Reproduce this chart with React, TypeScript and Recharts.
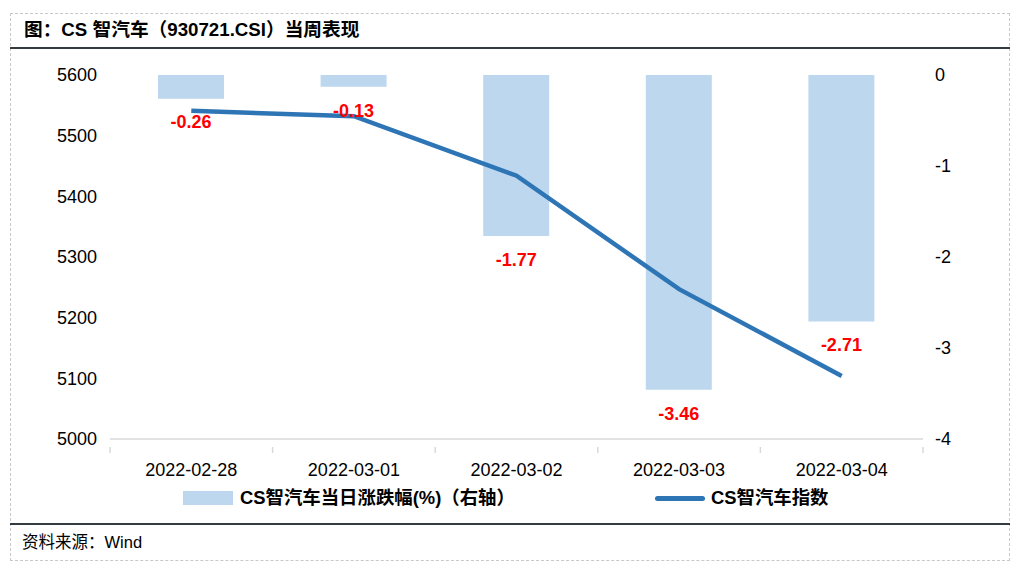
import { ComposedChart, Bar, Line, XAxis, YAxis, LabelList } from "recharts";

const dates = ["2022-02-28", "2022-03-01", "2022-03-02", "2022-03-03", "2022-03-04"];
const dailyChange = [-0.26, -0.13, -1.77, -3.46, -2.71];
const indexValues = [5541, 5532, 5434, 5247, 5104];
const leftTicks = [5000, 5100, 5200, 5300, 5400, 5500, 5600];
const rightTicks = [-4, -3, -2, -1, 0];

const data = dates.map((d, i) => ({
  date: d,
  change: dailyChange[i],
  index: indexValues[i],
}));

const FONT = "'Liberation Sans', Arial, 'Noto Sans CJK SC', sans-serif";
const CHART_W = 1021;
const CHART_H = 440;
const MARGIN = { top: 25, right: 38, bottom: 21, left: 50 };
const PLOT_W = CHART_W - MARGIN.left - MARGIN.right - 60 - 60;
const HALF_BAND = PLOT_W / dates.length / 2;

const DateTick = (props: any) => {
  const { x, y, payload, index } = props;
  const last = index === dates.length - 1;
  return (
    <g>
      <line x1={x - HALF_BAND} y1={y} x2={x - HALF_BAND} y2={y + 6} stroke="#d9d9d9" strokeWidth={1.5} />
      {last && (
        <line x1={x + HALF_BAND} y1={y} x2={x + HALF_BAND} y2={y + 6} stroke="#d9d9d9" strokeWidth={1.5} />
      )}
      <text x={x} y={y + 24} textAnchor="middle" dominantBaseline="middle" fontSize={18} fill="#000" fontFamily={FONT}>
        {payload.value}
      </text>
    </g>
  );
};

const ChangeLabel = (props: any) => {
  const { x, y, width, height, value } = props;
  const bottom = Math.max(y, y + height);
  return (
    <text
      x={x + width / 2}
      y={bottom + 25}
      textAnchor="middle"
      dominantBaseline="middle"
      fontSize={18}
      fontWeight="bold"
      fill="#ff0000"
      fontFamily={FONT}
    >
      {value.toFixed(2)}
    </text>
  );
};

export default function App() {
  return (
    <div style={{ position: "absolute", left: 0, top: 0, width: 1021, height: 574, fontFamily: FONT, background: "#fff" }}>
      <div
        style={{
          position: "absolute",
          left: 10,
          top: 13,
          width: 1000,
          height: 548,
          border: "1px dashed #c8c8c8",
          boxSizing: "border-box",
        }}
      />
      <div style={{ position: "absolute", left: 24, top: 18, fontSize: 18.7, fontWeight: "bold", color: "#000", lineHeight: "24px" }}>
        图：CS 智汽车（930721.CSI）当周表现
      </div>
      <div style={{ position: "absolute", left: 10, top: 47, width: 1000, height: 2, background: "#333a40" }} />

      <div style={{ position: "absolute", left: 0, top: 50 }}>
        <ComposedChart width={CHART_W} height={CHART_H} data={data} margin={MARGIN}>
          <XAxis
            dataKey="date"
            height={30}
            axisLine={{ stroke: "#d9d9d9", strokeWidth: 1.5 }}
            tickLine={false}
            tick={<DateTick />}
            interval={0}
          />
          <YAxis
            yAxisId="left"
            orientation="left"
            width={60}
            domain={[5000, 5600]}
            ticks={leftTicks}
            axisLine={false}
            tickLine={false}
            tickMargin={7}
            tick={{ fontSize: 18, fill: "#000", fontFamily: FONT }}
          />
          <YAxis
            yAxisId="right"
            orientation="right"
            width={60}
            domain={[-4, 0]}
            ticks={rightTicks}
            axisLine={false}
            tickLine={false}
            tickMargin={6}
            tick={{ fontSize: 18, fill: "#000", fontFamily: FONT, textAnchor: "start" }}
          />
          <Bar yAxisId="right" dataKey="change" fill="#bdd7ee" barSize={66} isAnimationActive={false}>
            <LabelList dataKey="change" content={<ChangeLabel />} />
          </Bar>
          <Line
            yAxisId="left"
            dataKey="index"
            type="linear"
            stroke="#2e75b6"
            strokeWidth={4.5}
            dot={false}
            activeDot={false}
            isAnimationActive={false}
          />
        </ComposedChart>
      </div>

      <div style={{ position: "absolute", left: 183, top: 491, width: 50, height: 14, background: "#bdd7ee" }} />
      <div style={{ position: "absolute", left: 240, top: 486, fontSize: 18.4, fontWeight: "bold", lineHeight: "24px", color: "#000" }}>
        CS智汽车当日涨跌幅(%)（右轴）
      </div>
      <div style={{ position: "absolute", left: 655, top: 496, width: 50, height: 5, borderRadius: 2.5, background: "#2e75b6" }} />
      <div style={{ position: "absolute", left: 711, top: 486, fontSize: 18.4, fontWeight: "bold", lineHeight: "24px", color: "#000" }}>
        CS智汽车指数
      </div>

      <div style={{ position: "absolute", left: 10, top: 523, width: 1000, height: 2, background: "#333a40" }} />
      <div style={{ position: "absolute", left: 22, top: 531, fontSize: 16.5, lineHeight: "22px", color: "#000" }}>
        资料来源：Wind
      </div>
    </div>
  );
}
